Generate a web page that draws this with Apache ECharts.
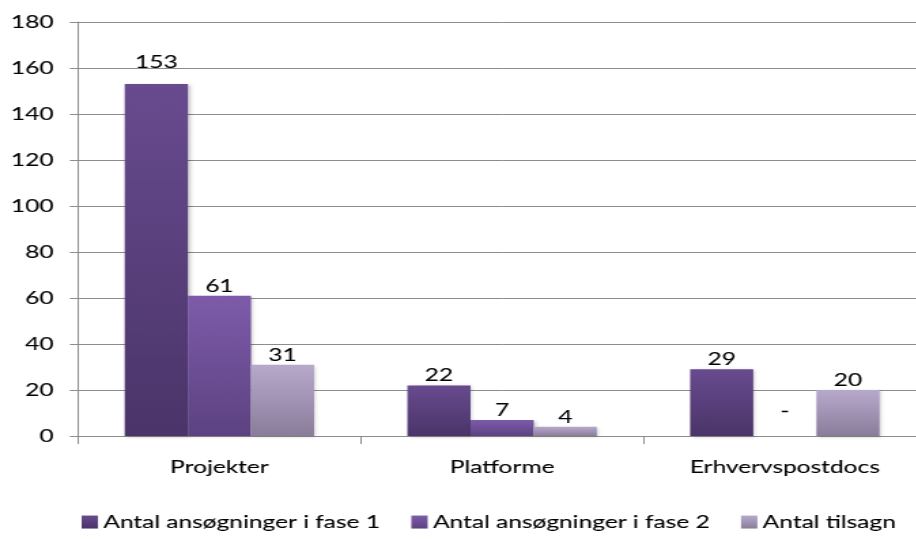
<!DOCTYPE html>
<html>
<head>
<meta charset="utf-8">
<script src="https://cdn.jsdelivr.net/npm/echarts@6/dist/echarts.min.js"></script>
<style>
  html, body { margin: 0; padding: 0; background: #fff; overflow: hidden; width: 916px; height: 541px; }
  /* the chart is laid out narrow and widened horizontally for the wide-set lettering */
  #chart { width: 681px; height: 541px; transform: scaleX(1.36); transform-origin: 0 0; }
</style>
</head>
<body>
<div id="chart"></div>
<script>
// Categories and series values
const categories = ['Projekter', 'Platforme', 'Erhvervspostdocs'];
const seriesNames = ['Antal ansøgninger i fase 1', 'Antal ansøgninger i fase 2', 'Antal tilsagn'];
const fase1 = [153, 22, 29];
const fase2 = [61, 7, null];   // no value for Erhvervspostdocs, shown as "-"
const tilsagn = [31, 4, 20];
const yTicks = [0, 20, 40, 60, 80, 100, 120, 140, 160, 180];

const FONT = 'Lato, "Open Sans", sans-serif';
// shared text style
const TEXT = { fontFamily: FONT, fontSize: 18, color: '#000', textBorderColor: '#000', textBorderWidth: 0.1 };

function grad(top, bottom) {
  return new echarts.graphic.LinearGradient(0, 0, 0, 1, [
    { offset: 0, color: top },
    { offset: 1, color: bottom }
  ]);
}

const palettes = [
  ['#684b8f', '#4a3468'],
  ['#7d5baa', '#5c4281'],
  ['#b6a9cb', '#8a7d9b']
];

// extra lift for individual value labels (series index -> data index -> px)
const labelLift = { 0: { 0: 12 } };

function toData(values, sIdx) {
  return values.map((v, i) => {
    const lift = (labelLift[sIdx] && labelLift[sIdx][i]) || 0;
    if (v === null) {
      return { value: 0, label: { formatter: '-', offset: [0, -15] } };
    }
    return lift ? { value: v, label: { offset: [0, -lift] } } : v;
  });
}

function makeSeries(name, values, idx) {
  return {
    name: name,
    type: 'bar',
    barGap: '0%',
    barCategoryGap: '33%',
    data: toData(values, idx),
    itemStyle: {
      color: grad(palettes[idx][0], palettes[idx][1]),
      shadowColor: 'rgba(0,0,0,0.22)',
      shadowBlur: 3,
      shadowOffsetX: 1.5,
      shadowOffsetY: 1
    },
    label: Object.assign({ show: true, position: 'top', distance: 1 }, TEXT)
  };
}

const chart = echarts.init(document.getElementById('chart'), null, { renderer: 'canvas' });
chart.setOption({
  animation: false,
  backgroundColor: '#fff',
  grid: { left: 57.4, right: 0, top: 22, bottom: 105, containLabel: false },
  legend: {
    top: 513,
    left: 60,
    padding: 0,
    itemWidth: 12,
    itemHeight: 13,
    itemGap: 23,
    icon: 'rect',
    textStyle: Object.assign({ padding: [0, 0, 0, -1] }, TEXT),
    data: seriesNames.map((n, i) => ({ name: n, itemStyle: { color: grad(palettes[i][0], palettes[i][1]) } }))
  },
  xAxis: {
    type: 'category',
    data: categories,
    axisLine: { lineStyle: { color: '#8c8c8c', width: 1 } },
    axisTick: { show: true, length: 8, lineStyle: { color: '#8c8c8c' } },
    axisLabel: Object.assign({ margin: 22 }, TEXT)
  },
  yAxis: {
    type: 'value',
    min: yTicks[0],
    max: yTicks[yTicks.length - 1],
    interval: yTicks[1] - yTicks[0],
    axisLine: { show: true, lineStyle: { color: '#8c8c8c', width: 1 } },
    axisTick: { show: true, length: 6, lineStyle: { color: '#8c8c8c' } },
    splitLine: { lineStyle: { color: '#8c8c8c', width: 1 } },
    axisLabel: Object.assign({ margin: 18 }, TEXT)
  },
  series: [
    makeSeries(seriesNames[0], fase1, 0),
    makeSeries(seriesNames[1], fase2, 1),
    makeSeries(seriesNames[2], tilsagn, 2)
  ]
});
</script>
</body>
</html>
